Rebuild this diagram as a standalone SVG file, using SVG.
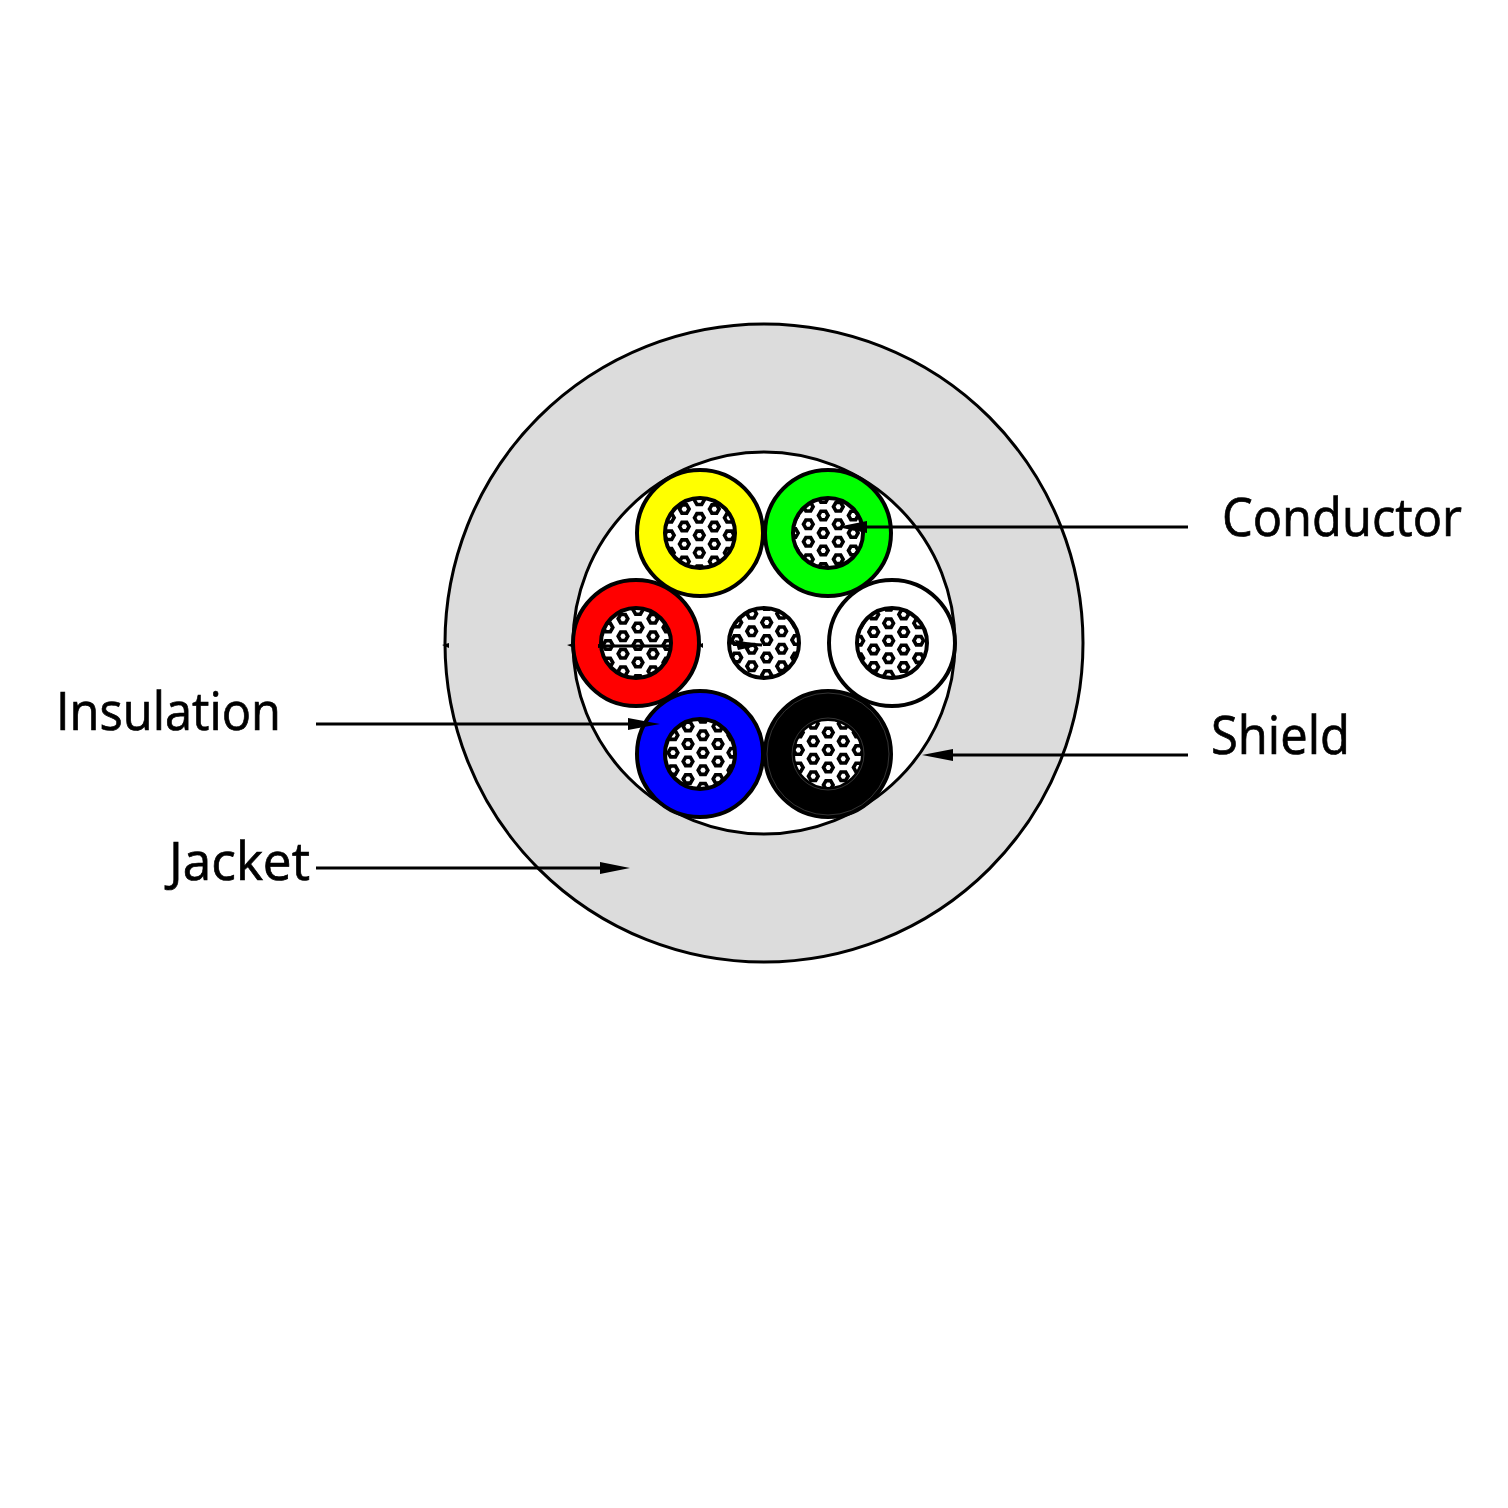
<svg xmlns="http://www.w3.org/2000/svg" xmlns:xlink="http://www.w3.org/1999/xlink" width="1508" height="1508" viewBox="0 0 1508 1508">
<style>
.o{stroke:#000;stroke-width:3}
.w{stroke:#000;stroke-width:4}
.c{fill:#fff}
.r{fill:none;stroke:#000;stroke-width:4}
.h{fill:none;stroke:#000;stroke-width:3.6}
.l{stroke:#000;stroke-width:3;fill:none}
.a{fill:#000}
text{font-family:"Open Sans","Noto Sans",sans-serif;font-size:53px;fill:#000;stroke:#000;stroke-width:.7}
</style>
<defs>
<clipPath id="cc"><circle r="35"/></clipPath>
<path id="h" class="h" d="M-4.8 0L-2.4-4.2H2.4L4.8 0L2.4 4.2H-2.4Z"/>
<g id="col"><use href="#h" y="-52.5"/><use href="#h" y="-35"/><use href="#h" y="-17.5"/><use href="#h"/><use href="#h" y="17.5"/><use href="#h" y="35"/><use href="#h" y="52.5"/></g>
<g id="lat"><use href="#col" x="-45" y="8.75"/><use href="#col" x="-30"/><use href="#col" x="-15" y="8.75"/><use href="#col"/><use href="#col" x="15" y="8.75"/><use href="#col" x="30"/><use href="#col" x="45" y="8.75"/></g>
</defs>
<rect width="1508" height="1508" fill="#fff"/>
<g id="jacket"><circle cx="764" cy="643" r="319" fill="#dcdcdc" class="o"/></g>
<g id="shield"><circle cx="764" cy="643" r="191" fill="#fff" class="o"/></g>
<g id="wire-yellow" transform="translate(700,533)"><circle r="63" fill="#ff0" class="w"/><circle r="35" class="c"/><g clip-path="url(#cc)"><use href="#lat" x="-0.7" y="2.3"/></g><circle r="35" class="r"/></g>
<g id="wire-green" transform="translate(828,533)"><circle r="63" fill="#0f0" class="w"/><circle r="35" class="c"/><g clip-path="url(#cc)"><use href="#lat" x="-4.7" y="0"/></g><circle r="35" class="r"/></g>
<g id="wire-red" transform="translate(636,643)"><circle r="63" fill="#f00" class="w"/><circle r="35" class="c"/><g clip-path="url(#cc)"><use href="#lat" x="2" y="2"/></g><circle r="35" class="r"/></g>
<g id="wire-center" transform="translate(764,643)"><circle r="35" class="c"/><g clip-path="url(#cc)"><use href="#lat" x="2.7" y="-3"/></g><circle r="35" class="r"/></g>
<g id="wire-white" transform="translate(892,643)"><circle r="63" fill="#fff" class="w"/><circle r="35" class="c"/><g clip-path="url(#cc)"><use href="#lat" x="-3.3" y="-2.3"/></g><circle r="35" class="r"/></g>
<g id="wire-blue" transform="translate(700,754)"><circle r="63" fill="#00f" class="w"/><circle r="35" class="c"/><g clip-path="url(#cc)"><use href="#lat" x="3" y="-1.3"/></g><circle r="35" class="r"/></g>
<g id="wire-black" transform="translate(828,754)"><circle r="63" fill="#000" class="w"/><circle r="61" fill="none" stroke="#555" stroke-width=".6"/><circle r="35" class="c"/><g clip-path="url(#cc)"><use href="#lat" x="0.3" y="-4"/></g><circle r="35" class="r"/><circle r="36" fill="none" stroke="#555" stroke-width=".6"/></g>
<g id="connectors">
<path class="l" d="M1188 527H865"/><path class="a" d="M867 521V533L837 527Z"/>
<path class="l" d="M316 724H632"/><path class="a" d="M628 718V730L660 724Z"/>
<path class="l" d="M1188 755H950"/><path class="a" d="M953 749V761L922 755Z"/>
<path class="l" d="M316 868H602"/><path class="a" d="M600 862V874L630 868Z"/>
<path class="l" d="M598 646H672"/><path class="a" d="M598 644V648L606 646Z"/>
<path class="a" d="M735 640L762 645L738 650Z"/><path class="l" d="M730 643L762 645"/>
<path class="a" d="M442 645L449 643V648Z"/><path class="a" d="M567 645L574 643V648Z"/><path class="a" d="M698 645L703 643V648Z"/>
</g>
<g id="labels">
<text x="1222" y="536" textLength="240" lengthAdjust="spacingAndGlyphs">Conductor</text>
<text x="56" y="730" textLength="225" lengthAdjust="spacingAndGlyphs">Insulation</text>
<text x="1211" y="754" textLength="139" lengthAdjust="spacingAndGlyphs">Shield</text>
<text x="169" y="880" textLength="141" lengthAdjust="spacingAndGlyphs">Jacket</text>
</g>
</svg>
